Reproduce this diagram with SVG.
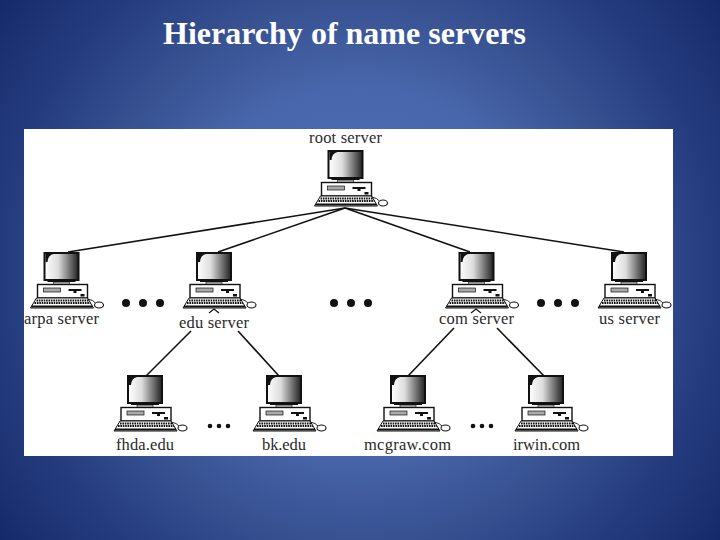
<svg xmlns="http://www.w3.org/2000/svg" width="720" height="540" viewBox="0 0 720 540">
<style>
.t{font-family:"Liberation Serif","Times New Roman",serif;font-size:16.500px;fill:#2a2a2a;text-anchor:middle}
.c line{stroke:#111;stroke-width:1.6}
.d{fill:#111}
</style>
<defs>
<radialGradient id="bg" gradientUnits="userSpaceOnUse" cx="360" cy="270" r="460">
<stop offset="0" stop-color="#5273bc"/><stop offset="0.4" stop-color="#4866ab"/><stop offset="0.58" stop-color="#385292"/><stop offset="0.78" stop-color="#243c7e"/><stop offset="1" stop-color="#142868"/>
</radialGradient>
<linearGradient id="scr" x1="0" x2="1" y1="0" y2="0">
<stop offset="0" stop-color="#fff"/><stop offset="0.4" stop-color="#ddd"/><stop offset="1" stop-color="#222"/>
</linearGradient>
<g id="pc">
<rect x="-17" y="0" width="34" height="27" fill="url(#scr)" stroke="#111" stroke-width="2"/>
<path d="M-16 9V1H-8Q-13.500 2-14 9Z" fill="#111"/>
<rect x="-14" y="27" width="28" height="2" fill="#111"/>
<rect x="-8" y="29" width="16" height="2.500" fill="#bbb" stroke="#111" stroke-width=".6"/>
<rect x="-24" y="31.500" width="50" height="13.500" fill="#fff" stroke="#111" stroke-width="1.400"/>
<rect x="-18" y="35" width="17" height="4" fill="#aaa" stroke="#111" stroke-width=".7"/>
<path d="M7 36H20V38H15V40H12V38H7Z" fill="#111"/>
<rect x="19" y="41" width="4" height="2.500" fill="#111"/>
<path d="M-25 45H26L32 55H-31Z" fill="#fff" stroke="#111" stroke-width="1"/>
<path d="M-25 47.500H27M-27 50H29" stroke="#111" stroke-width="1.800" stroke-dasharray="1.600 .8"/>
<path d="M-30 53.500H31" stroke="#111" stroke-width="1.800"/>
<path d="M26 46Q32 47 34 50" fill="none" stroke="#111" stroke-width=".9"/>
<ellipse cx="37.500" cy="52" rx="4.500" ry="3" fill="#fff" stroke="#111" stroke-width="1.100"/>
</g>
</defs>
<rect width="720" height="540" fill="url(#bg)"/>
<text x="344.500" y="44" text-anchor="middle" font-family="'Liberation Serif','Times New Roman',serif" font-weight="700" font-size="32" fill="#fff" textLength="363" lengthAdjust="spacing">Hierarchy of name servers</text>
<rect x="24" y="129" width="649" height="327" fill="#fff"/>
<g id="connectors" class="c">
<line x1="345" y1="208" x2="68" y2="252"/>
<line x1="345" y1="208" x2="218" y2="252"/>
<line x1="345" y1="208" x2="470" y2="252"/>
<line x1="345" y1="208" x2="624" y2="252"/>
<line x1="191" y1="331" x2="146" y2="376"/>
<line x1="238" y1="331" x2="279" y2="376"/>
<line x1="454" y1="328" x2="408" y2="376"/>
<line x1="497" y1="328" x2="544" y2="376"/>
<path d="M209 313L214 309L219 313" fill="none" stroke="#111" stroke-width="1.200"/>
<path d="M471 313L476 309L481 313" fill="none" stroke="#111" stroke-width="1.200"/>
</g>
<g id="root"><use href="#pc" x="345.500" y="151"/><text class="t" x="345.500" y="143" textLength="73">root server</text></g>
<g id="arpa"><use href="#pc" x="61.500" y="253"/><text class="t" x="61.500" y="323.500" textLength="75">arpa server</text></g>
<g id="edu"><use href="#pc" x="214" y="253"/><text class="t" x="214" y="327.500" textLength="70">edu server</text></g>
<g id="com"><use href="#pc" x="476.500" y="253"/><text class="t" x="476.500" y="323.500" textLength="75">com server</text></g>
<g id="us"><use href="#pc" x="629" y="253"/><text class="t" x="629.500" y="323.500" textLength="61">us server</text></g>
<g id="fhda"><use href="#pc" x="145" y="376"/><text class="t" x="145" y="450" textLength="58">fhda.edu</text></g>
<g id="bk"><use href="#pc" x="284" y="376"/><text class="t" x="284" y="450" textLength="44">bk.edu</text></g>
<g id="mcgraw"><use href="#pc" x="408" y="376"/><text class="t" x="407.500" y="450" textLength="87">mcgraw.com</text></g>
<g id="irwin"><use href="#pc" x="546" y="376"/><text class="t" x="546.500" y="450" textLength="67">irwin.com</text></g>
<g id="dots" class="d">
<circle cx="126" cy="303" r="4"/><circle cx="143" cy="303" r="4"/><circle cx="160" cy="303" r="4"/>
<circle cx="334" cy="303" r="4"/><circle cx="351" cy="303" r="4"/><circle cx="368" cy="303" r="4"/>
<circle cx="541" cy="303" r="4"/><circle cx="558" cy="303" r="4"/><circle cx="575" cy="303" r="4"/>
<circle cx="210" cy="426" r="2.300"/><circle cx="219" cy="426" r="2.300"/><circle cx="228" cy="426" r="2.300"/>
<circle cx="473" cy="426" r="2.300"/><circle cx="482" cy="426" r="2.300"/><circle cx="491" cy="426" r="2.300"/>
</g>
</svg>
